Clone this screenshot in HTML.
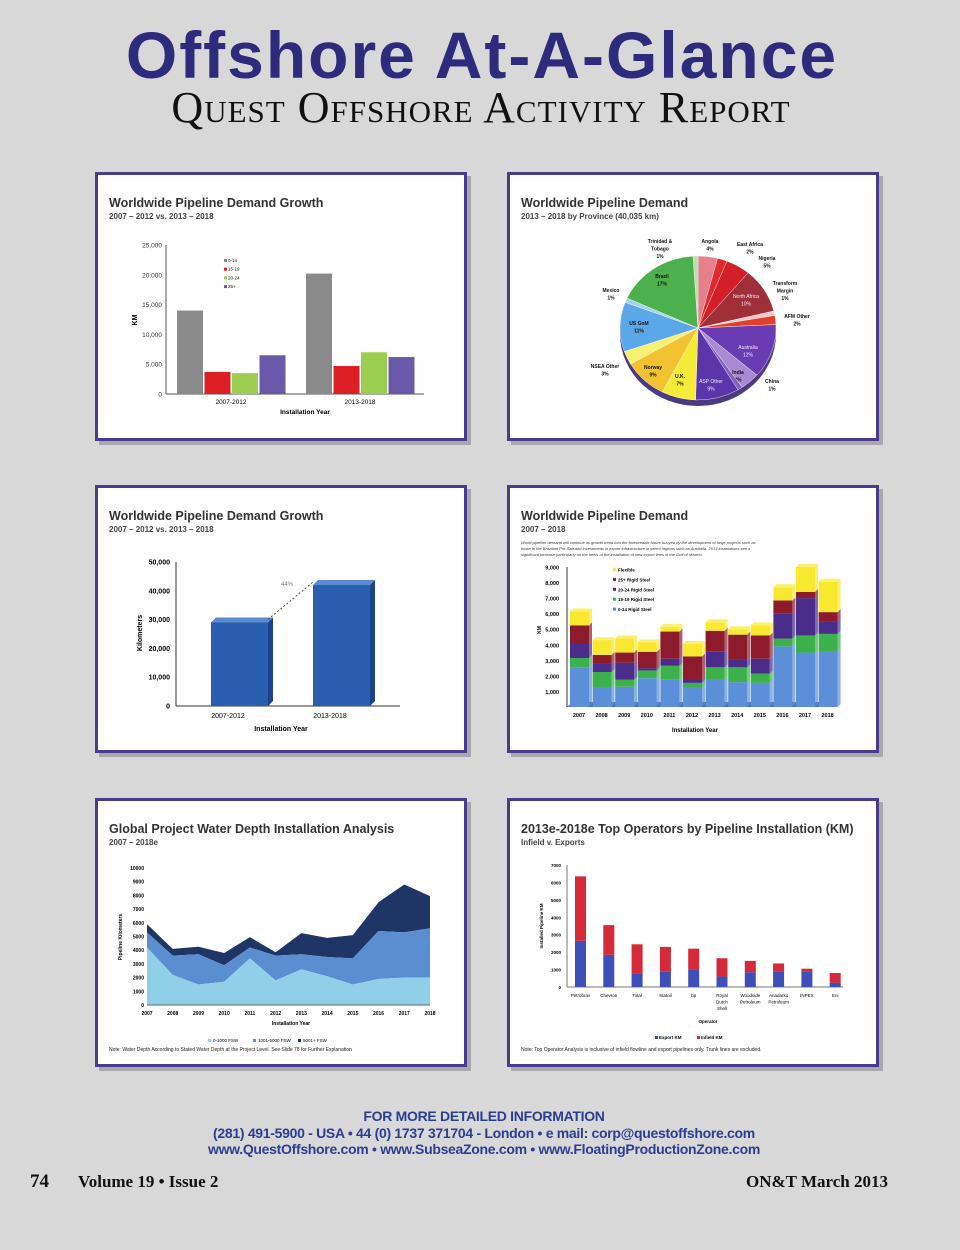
<!DOCTYPE html>
<html><head><meta charset="utf-8"><style>
html,body{margin:0;padding:0;background:#d8d8d9;}
body{width:960px;height:1245px;overflow:hidden;position:relative;font-family:"Liberation Sans",sans-serif;}
svg text{font-family:"Liberation Sans",sans-serif;}
</style></head><body>
<svg id="pg" width="960" height="1245" viewBox="0 0 960 1245" xmlns="http://www.w3.org/2000/svg">
<rect width="960" height="1245" fill="#d8d8d9"/>
<text x="482" y="78" text-anchor="middle" font-size="66" font-weight="bold" fill="#2e2a7c" style="letter-spacing:2px">Offshore At-A-Glance</text>
<text x="481" y="122" text-anchor="middle" font-size="44" fill="#111" style="font-family:'Liberation Serif',serif;font-variant:small-caps;letter-spacing:1px">Quest Offshore Activity Report</text>
<g id="panels"></g>
<text x="484" y="1121" text-anchor="middle" font-size="14" font-weight="bold" fill="#2d3d90" style="letter-spacing:-0.3px">FOR MORE DETAILED INFORMATION</text>
<text x="484" y="1138" text-anchor="middle" font-size="14" font-weight="bold" fill="#2d3d90" style="letter-spacing:-0.3px">(281) 491-5900 - USA  •  44 (0) 1737 371704 - London  •  e mail: corp@questoffshore.com</text>
<text x="484" y="1154" text-anchor="middle" font-size="14" font-weight="bold" fill="#2d3d90" style="letter-spacing:-0.3px">www.QuestOffshore.com  •  www.SubseaZone.com  •  www.FloatingProductionZone.com</text>
<text x="30" y="1187" font-size="19" font-weight="bold" fill="#111" style="font-family:'Liberation Serif',serif">74</text>
<text x="78" y="1187" font-size="17" font-weight="bold" fill="#111" style="font-family:'Liberation Serif',serif">Volume 19 • Issue 2</text>
<text x="888" y="1187" text-anchor="end" font-size="17" font-weight="bold" fill="#111" style="font-family:'Liberation Serif',serif">ON&amp;T March 2013</text>
</svg>
<script>
// ---------- data ----------
const c1Groups=["2007-2012","2013-2018"];
const c1Series=["0-14","15-19","20-24","25+"];
const c1Values=[[14000,3700,3500,6500],[20200,4700,7000,6200]];
const c1Ticks=[0,5000,10000,15000,20000,25000];

const pieLabels=["Angola","East Africa","Nigeria","North Africa","Transform Margin","AFM Other","Australia","India","China","ASP Other","U.K.","Norway","NSEA Other","US GoM","Mexico","Brazil","Trinidad & Tobago"];
const pieValues=[4,2,5,10,1,2,12,4,1,9,7,9,3,11,1,17,1];

const c3Cats=["2007-2012","2013-2018"];
const c3Values=[29000,42000];
const c3Ticks=[0,10000,20000,30000,40000,50000];

const c4Years=["2007","2008","2009","2010","2011","2012","2013","2014","2015","2016","2017","2018"];
const c4Series=["0-14 Rigid Steel","15-19 Rigid Steel","20-24 Rigid Steel","25+ Rigid Steel","Flexible"];
const c4s0=[2550,1250,1300,1850,1750,1250,1800,1600,1550,3900,3500,3600];
const c4s1=[600,1000,450,500,900,300,750,950,600,500,1100,1100];
const c4s2=[900,550,1100,150,450,250,1000,500,950,1600,2400,800];
const c4s3=[1200,550,650,1050,1750,1450,1350,1600,1500,850,400,600];
const c4s4=[900,950,900,600,300,800,550,350,650,850,1600,1950];
const c4Ticks=[1000,2000,3000,4000,5000,6000,7000,8000,9000];

const c5Years=["2007","2008","2009","2010","2011","2012","2013","2014","2015","2016","2017","2018"];
const c5Shallow=[4200,2200,1500,1700,3400,1800,2600,2100,1500,1900,2000,2000];
const c5Mid=[1100,1400,2200,1200,800,1800,1100,1400,1900,3500,3300,3600];
const c5Deep=[600,500,550,900,750,250,1550,1400,1700,2100,3500,2350];
const c5Ticks=[0,1000,2000,3000,4000,5000,6000,7000,8000,9000,10000];

const c6Ops=["Petrobras","Chevron","Total","Statoil","bp","Royal Dutch Shell","Woodside Petroleum","Anadarko Petroleum","INPEX","Eni"];
const c6Export=[2650,1850,750,900,1000,600,850,900,900,250];
const c6Infield=[3700,1700,1700,1400,1200,1050,650,450,150,550];
const c6Ticks=[0,1000,2000,3000,4000,5000,6000,7000];

// ---------- helpers ----------
const NS="http://www.w3.org/2000/svg";
const root=document.getElementById('panels');
function mk(tag,attrs,parent,txt){const e=document.createElementNS(NS,tag);for(const k in attrs)e.setAttribute(k,attrs[k]);if(txt!==undefined)e.textContent=txt;(parent||root).appendChild(e);return e;}
function fmt(v){return v.toLocaleString('en-US');}
function lin(d0,d1,r0,r1){return v=>r0+(v-d0)/(d1-d0)*(r1-r0);}

function panel(x,y,w,h,name,title,sub){
  const g=mk('g',{});
  
  
  mk('rect',{x:x+4,y:y+4,width:w,height:h,fill:'#a9a9ab'},g);
  const r=mk('rect',{x:x+1.5,y:y+1.5,width:w-3,height:h-3,fill:'#fff',stroke:'#4a3a90','stroke-width':3},g);
  
  
  const t=mk('text',{x:x+14,y:y+35,'font-size':12.5,'font-weight':'bold',fill:'#333'},g,title);
  
  
  const s=mk('text',{x:x+14,y:y+47,'font-size':8,'font-weight':'bold',fill:'#444'},g,sub);
  
  
  return g;
}

// ---------- chart 1 ----------
(function(){
  const g=panel(95,172,372,269,'pipeline-growth-chart','Worldwide Pipeline Demand Growth','2007 – 2012 vs. 2013 – 2018');
  const y=lin(0,25000,394,245);
  const cols=['#8a8a8a','#dd1f26','#9ccc50','#6a58a8'];
  mk('line',{x1:166,y1:245,x2:166,y2:394,stroke:'#555','stroke-width':1},g);
  mk('line',{x1:166,y1:394,x2:424,y2:394,stroke:'#555','stroke-width':1},g);
  c1Ticks.forEach(t=>{const e=mk('text',{x:162,y:y(t)+2.5,'font-size':6.5,'text-anchor':'end',fill:'#333'},g,fmt(t));
    
    });
  const yt=mk('text',{x:137,y:320,'font-size':7,'font-weight':'bold',transform:'rotate(-90 137 320)','text-anchor':'middle'},g,'KM');
  
  
  const gx=[177,306];
  c1Groups.forEach((gn,i)=>{
    c1Values[i].forEach((v,j)=>{const b=mk('rect',{x:gx[i]+j*27.5,y:y(v),width:26,height:394-y(v),fill:cols[j]},g);
      
      });
    const l=mk('text',{x:gx[i]+54,y:404,'font-size':6.5,'text-anchor':'middle'},g,gn);
    
    
  });
  const xt=mk('text',{x:305,y:414,'font-size':6.5,'font-weight':'bold','text-anchor':'middle'},g,'Installation Year');
  
  
  c1Series.forEach((s,j)=>{const le=mk('g',{},g);
    
    
    mk('rect',{x:224,y:259+j*8.7,width:3,height:3,fill:cols[j]},le);
    mk('text',{x:228,y:262+j*8.7,'font-size':4.5},le,s);});
})();

// ---------- chart 2 pie ----------
(function(){
  const g=panel(507,172,372,269,'province-pie-chart','Worldwide Pipeline Demand','2013 – 2018 by Province (40,035 km)');
  const cols=['#e8808c','#e02a30','#d21f28','#a03038','#f2c8c8','#e0402a','#6a3cb4','#a88ad0','#8060c0','#5a36aa','#f5ec3a','#f2c230','#f8f070','#5aa8e8','#a8d2f2','#4cb04c','#b8e0a8'];
  const cx=698,cy=328,rx=78,ry=72,dep=6;
  const tot=pieValues.reduce((a,b)=>a+b,0);
  mk('ellipse',{cx:cx,cy:cy+dep,rx:rx,ry:ry,fill:'#4a3a80'},g);
  let a=-Math.PI/2;
  const labelPos={"Angola":[710,243],"East Africa":[750,246],"Nigeria":[767,260],"North Africa":[746,298],"Transform Margin":[785,285],"AFM Other":[797,318],"Australia":[748,349],"India":[738,374],"China":[772,383],"ASP Other":[711,383],"U.K.":[680,378],"Norway":[653,369],"NSEA Other":[605,368],"US GoM":[639,325],"Mexico":[611,292],"Brazil":[662,278],"Trinidad & Tobago":[660,243]};
  pieValues.forEach((v,i)=>{
    const a2=a+v/tot*2*Math.PI;
    const p=(t)=>[cx+rx*Math.cos(t),cy+ry*Math.sin(t)];
    const [x1,y1]=p(a),[x2,y2]=p(a2);
    const s=mk('path',{d:`M${cx},${cy}L${x1},${y1}A${rx},${ry} 0 ${a2-a>Math.PI?1:0} 1 ${x2},${y2}Z`,fill:cols[i],stroke:'#fff','stroke-width':0.4},g);
    
    
    const lp=labelPos[pieLabels[i]];
    const light=['North Africa','Australia','ASP Other'].includes(pieLabels[i]);
    const words=pieLabels[i]==='Trinidad & Tobago'?['Trinidad &','Tobago']:pieLabels[i]==='Transform Margin'?['Transform','Margin']:[pieLabels[i]];
    words.concat([v+'%']).forEach((w,k)=>{const t=mk('text',{x:lp[0],y:lp[1]+k*7.5,'font-size':5,'font-weight':light?'normal':'bold','text-anchor':'middle',fill:light?'#f0e8ff':'#111'},g,w);
      
      });
    a=a2;
  });
})();

// ---------- chart 3 ----------
(function(){
  const g=panel(95,485,372,268,'total-growth-chart','Worldwide Pipeline Demand Growth','2007 – 2012 vs. 2013 – 2018');
  const y=lin(0,50000,706,562);
  mk('line',{x1:176,y1:562,x2:176,y2:706,stroke:'#333'},g);
  mk('line',{x1:176,y1:706,x2:400,y2:706,stroke:'#333'},g);
  c3Ticks.forEach(t=>{const e=mk('text',{x:170,y:y(t)+2.5,'font-size':7,'font-weight':'bold','text-anchor':'end'},g,fmt(t));
    
    });
  const yt=mk('text',{x:142,y:633,'font-size':7,'font-weight':'bold',transform:'rotate(-90 142 633)','text-anchor':'middle'},g,'Kilometers');
  
  
  const bx=[211,313],bw=57,d=5;
  c3Cats.forEach((c,i)=>{
    const top=y(c3Values[i]);
    const bg=mk('g',{},g);
    
    
    mk('rect',{x:bx[i],y:top,width:bw,height:706-top,fill:'#2a5fb0'},bg);
    mk('path',{d:`M${bx[i]},${top}l${d},${-d}h${bw}l${-d},${d}z`,fill:'#5b8ad0'},bg);
    mk('path',{d:`M${bx[i]+bw},${top}l${d},${-d}V${706-d}l${-d},${d}z`,fill:'#1c4288'},bg);
    const l=mk('text',{x:bx[i]+17,y:718,'font-size':7,'text-anchor':'middle'},g,c);
    
    
  });
  mk('path',{d:`M${bx[0]+bw},${y(c3Values[0])-3}L${bx[1]},${y(c3Values[1])-3}`,stroke:'#555','stroke-dasharray':'2,2',fill:'none'},g);
  const pc=mk('text',{x:287,y:586,'font-size':6,fill:'#777','text-anchor':'middle'},g,'44%');
  
  
  const xt=mk('text',{x:281,y:731,'font-size':7,'font-weight':'bold','text-anchor':'middle'},g,'Installation Year');
  
  
})();

// ---------- chart 4 ----------
(function(){
  const g=panel(507,485,372,268,'annual-demand-chart','Worldwide Pipeline Demand','2007 – 2018');
  const note=['World pipeline demand will continue its growth trend into the foreseeable future buoyed by the development of large projects such as','those in the Brazilian Pre-Salt and investments in export infrastructure in select regions such as Australia. 2013 installations see a','significant increase particularly on the heels of the installation of new export lines in the Gulf of Mexico.'];
  note.forEach((n,k)=>{const t=mk('text',{x:521,y:544+k*6,'font-size':4,'font-style':'italic',fill:'#333'},g,n);
    
    });
  const y=lin(0,9000,707,567);
  const series=[c4s0,c4s1,c4s2,c4s3,c4s4];
  const cols=['#5b8fd8','#3cb04a','#4a2d8a','#8c1c2c','#f8e830'];
  const tops=['#8ab0e8','#70d070','#7050b0','#b03040','#fbf070'];
  mk('line',{x1:567,y1:567,x2:567,y2:707,stroke:'#333'},g);
  mk('path',{d:'M567,707L827,707L833,702L573,702Z',fill:'#4a70c0'},g);
  c4Ticks.forEach(t=>{const e=mk('text',{x:559,y:y(t)+2.5,'font-size':5.5,'font-weight':'bold','text-anchor':'end'},g,fmt(t));
    
    });
  const yt=mk('text',{x:541,y:630,'font-size':5,'font-weight':'bold',transform:'rotate(-90 541 630)','text-anchor':'middle'},g,'KM');
  
  
  c4Years.forEach((yr,i)=>{
    const x=570+i*22.6,w=19,d=3;let cum=0;
    series.forEach((s,j)=>{const y0=y(cum),y1=y(cum+s[i]);cum+=s[i];
      const b=mk('g',{},g);
      
      
      mk('rect',{x:x,y:y1,width:w,height:y0-y1,fill:cols[j]},b);
      mk('path',{d:`M${x+w},${y1}l${d},${-d}V${y0-d}l${-d},${d}z`,fill:cols[j],opacity:0.7},b);
      if(j===series.length-1)mk('path',{d:`M${x},${y1}l${d},${-d}h${w}l${-d},${d}z`,fill:tops[j]},b);
    });
    const l=mk('text',{x:x+9,y:717,'font-size':5.5,'font-weight':'bold','text-anchor':'middle'},g,yr);
    
    
  });
  const xt=mk('text',{x:695,y:732,'font-size':6,'font-weight':'bold','text-anchor':'middle'},g,'Installation Year');
  
  
  c4Series.slice().reverse().forEach((s,k)=>{const le=mk('g',{},g);
    
    
    mk('rect',{x:613,y:568+k*9.9,width:3,height:3,fill:cols[4-k]},le);
    mk('text',{x:618,y:571.5+k*9.9,'font-size':4.5,'font-weight':'bold'},le,s);});
})();

// ---------- chart 5 ----------
(function(){
  const g=panel(95,798,372,269,'water-depth-chart','Global Project Water Depth Installation Analysis','2007 – 2018e');
  const x=lin(0,11,147,430),y=lin(0,10000,1005,868);
  const cols=['#8fd0e8','#5b8ed0','#1f3566'];
  const layers=[c5Shallow,c5Mid,c5Deep];
  const cum=c5Years.map(()=>0);
  const bases=[];
  layers.forEach((L,j)=>{const lo=cum.slice();L.forEach((v,i)=>cum[i]+=v);bases.push([lo,cum.slice()]);});
  for(let j=2;j>=0;j--){
    const [lo,hi]=bases[j];
    let d='M'+x(0)+','+y(hi[0]);
    hi.forEach((v,i)=>d+='L'+x(i)+','+y(v));
    for(let i=lo.length-1;i>=0;i--)d+='L'+x(i)+','+y(lo[i]);
    const p=mk('path',{d:d+'Z',fill:cols[j]},g);
    
    
  }
  mk('line',{x1:147,y1:1005,x2:430,y2:1005,stroke:'#666'},g);
  c5Ticks.forEach(t=>{const e=mk('text',{x:144,y:y(t)+2,'font-size':5,'font-weight':'bold','text-anchor':'end'},g,t);
    
    });
  c5Years.forEach((yr,i)=>{const e=mk('text',{x:x(i),y:1015,'font-size':5,'font-weight':'bold','text-anchor':'middle'},g,yr);
    
    });
  const yt=mk('text',{x:122,y:937,'font-size':5,'font-weight':'bold',transform:'rotate(-90 122 937)','text-anchor':'middle'},g,'Pipeline Kilometers');
  
  
  const xt=mk('text',{x:291,y:1025,'font-size':5,'font-weight':'bold','text-anchor':'middle'},g,'Installation Year');
  
  
  ['0-1000 FSW','1001-5000 FSW','5001+ FSW'].forEach((s,k)=>{const le=mk('g',{},g);
    
    
    mk('rect',{x:208+k*45,y:1039,width:3,height:3,fill:cols[k]},le);
    mk('text',{x:213+k*45,y:1042,'font-size':4.5},le,s);});
  const n=mk('text',{x:109,y:1051,'font-size':5,fill:'#222'},g,'Note: Water Depth According to Stated Water Depth at the Project Level. See Slide 78 for Further Explanation');
  
  
})();

// ---------- chart 6 ----------
(function(){
  const g=panel(507,798,372,269,'top-operators-chart','2013e-2018e Top Operators by Pipeline Installation (KM)','Infield v. Exports');
  const y=lin(0,7000,987,865);
  mk('line',{x1:567,y1:865,x2:567,y2:987,stroke:'#777'},g);
  mk('line',{x1:567,y1:987,x2:843,y2:987,stroke:'#777'},g);
  c6Ticks.forEach(t=>{const e=mk('text',{x:561,y:y(t)+2,'font-size':4.5,'font-weight':'bold','text-anchor':'end'},g,t);
    
    });
  const yt=mk('text',{x:543,y:926,'font-size':4.5,'font-weight':'bold',transform:'rotate(-90 543 926)','text-anchor':'middle'},g,'Installed Pipeline KM');
  
  
  c6Ops.forEach((op,i)=>{
    const x=575+i*28.3,w=11;
    const e=mk('rect',{x:x,y:y(c6Export[i]),width:w,height:987-y(c6Export[i]),fill:'#3f4fb8'},g);
    
    
    const f=mk('rect',{x:x,y:y(c6Export[i]+c6Infield[i]),width:w,height:y(c6Export[i])-y(c6Export[i]+c6Infield[i]),fill:'#d42a3a'},g);
    
    
    op.split(' ').forEach((w2,k)=>{const t=mk('text',{x:x+5.5,y:997+k*6.5,'font-size':4.5,'text-anchor':'middle'},g,w2);
      
      });
  });
  const xt=mk('text',{x:708,y:1023,'font-size':4.5,'font-weight':'bold','text-anchor':'middle'},g,'Operator');
  
  
  [['Export KM','#3f4fb8',655],['Infield KM','#d42a3a',697]].forEach(a=>{const le=mk('g',{},g);
    
    
    mk('rect',{x:a[2],y:1036,width:3,height:3,fill:a[1]},le);
    mk('text',{x:a[2]+4,y:1039,'font-size':4.5,'font-weight':'bold'},le,a[0]);});
  const n=mk('text',{x:521,y:1051,'font-size':5,fill:'#222'},g,'Note: Top Operator Analysis is inclusive of infield flowline and export pipelines only. Trunk lines are excluded.');
  
  
})();
</script>
</body></html>
